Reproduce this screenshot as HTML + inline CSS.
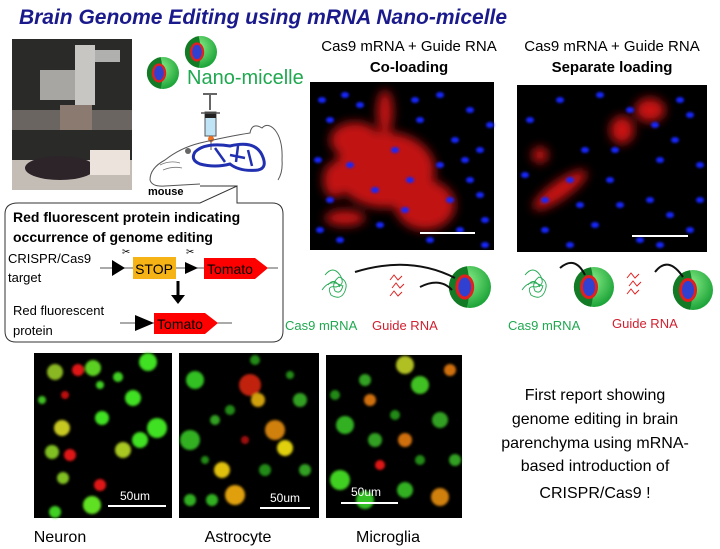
<!DOCTYPE html>
<html><head><meta charset="utf-8"><style>
html,body{margin:0;padding:0;background:#fff;}
svg{display:block;font-family:"Liberation Sans",Arial,sans-serif;}
</style></head><body>
<svg width="720" height="549" viewBox="0 0 720 549" xmlns="http://www.w3.org/2000/svg">
<defs>
<filter id="b1" x="-20%" y="-20%" width="140%" height="140%"><feGaussianBlur stdDeviation="1.3"/></filter>
<filter id="b2" x="-20%" y="-20%" width="140%" height="140%"><feGaussianBlur stdDeviation="5"/></filter>
<radialGradient id="gm" cx="40%" cy="35%" r="65%"><stop offset="0" stop-color="#8ef08a"/><stop offset="1" stop-color="#1ea53a"/></radialGradient>
<g id="mic">
<circle r="1" fill="url(#gm)"/>
<path d="M-0.15,-0.99 A1,1 0 0 0 -0.15,0.99 Q0.1,0 -0.15,-0.99Z" fill="#137a25"/>
<ellipse cx="-0.25" cy="0" rx="0.45" ry="0.6" fill="#e02020"/>
<ellipse cx="-0.25" cy="0" rx="0.3" ry="0.45" fill="#3040d0"/>
</g>
<g id="bd"><ellipse rx="4" ry="3" fill="#1428ff"/></g>
</defs>
<rect width="720" height="549" fill="#fff"/>
<text x="263" y="24" text-anchor="middle" font-size="21" font-weight="bold" font-style="italic" fill="#1a1a8c">Brain Genome Editing using mRNA Nano-micelle</text>

<!-- photo -->
<rect x="12" y="39" width="120" height="151" fill="#2a2a28"/>
<rect x="12" y="110" width="120" height="20" fill="#6a6560"/>
<rect x="40" y="70" width="55" height="30" fill="#a8a6a2"/>
<rect x="75" y="45" width="20" height="60" fill="#c8c6c2"/>
<rect x="95" y="50" width="25" height="12" fill="#b0b0ae"/>
<rect x="60" y="105" width="32" height="25" fill="#8a7a70"/>
<rect x="12" y="160" width="120" height="30" fill="#c4bdb5"/>
<ellipse cx="60" cy="168" rx="35" ry="12" fill="#2c2428"/>
<rect x="90" y="150" width="40" height="25" fill="#ece4dc"/>

<!-- micelles + syringe + mouse -->
<use href="#mic" transform="translate(163,73) scale(16)"/>
<use href="#mic" transform="translate(201,52) scale(16)"/>
<text x="187" y="84" font-size="20" fill="#20a850">Nano-micelle</text>
<line x1="210" y1="94" x2="210" y2="110" stroke="#666" stroke-width="2"/>
<line x1="203" y1="94" x2="217" y2="94" stroke="#666" stroke-width="2"/>
<rect x="205" y="112" width="11" height="24" fill="#bfe4f5" stroke="#555"/>
<rect x="205" y="112" width="11" height="6" fill="#222"/>
<line x1="201" y1="113" x2="220" y2="113" stroke="#555" stroke-width="1.5"/>
<circle cx="211" cy="139" r="3" fill="#f07020"/>
<line x1="211" y1="140" x2="211" y2="150" stroke="#555"/>
<path d="M150,180 Q150,168 165,160 Q180,148 200,143 Q230,136 250,133 Q252,122 262,128 Q268,122 275,130 Q283,140 282,160 Q283,172 278,180 M150,180 Q152,187 165,186 L200,184" fill="none" stroke="#555" stroke-width="1"/>
<path d="M195,152 Q205,142 230,146 Q255,140 262,155 Q268,168 258,170 Q240,172 230,164 Q215,168 200,164 Q190,160 195,152Z" fill="none" stroke="#2030b0" stroke-width="3"/>
<path d="M215,148 L225,162 M238,146 L236,162 M248,150 L252,166 M230,155 L245,158" stroke="#2030b0" stroke-width="2.5"/>
<circle cx="188" cy="151" r="3" fill="#666"/>
<path d="M160,165 Q170,160 180,163 M163,170 Q173,166 182,168" fill="none" stroke="#777" stroke-width="0.8"/>
<text x="148" y="195" font-size="11" font-weight="bold">mouse</text>

<!-- callout -->
<path d="M18,203 L200,203 L237,186 L237,203 L272,203 Q283,203 283,214 L283,331 Q283,342 272,342 L16,342 Q5,342 5,331 L5,214 Q5,203 18,203Z" fill="#fff" stroke="#333" stroke-width="1"/>
<path d="M200,186 L237,186" stroke="#333"/>
<text x="13" y="222" font-size="14" font-weight="bold">Red fluorescent protein indicating</text>
<text x="13" y="242" font-size="14" font-weight="bold">occurrence of genome editing</text>
<text x="8" y="263" font-size="13">CRISPR/Cas9</text>
<text x="8" y="282" font-size="13">target</text>
<line x1="100" y1="268" x2="278" y2="268" stroke="#555"/>
<path d="M112,260 L125,268 L112,276Z" fill="#000"/>
<rect x="133" y="257" width="43" height="22" fill="#f5b315"/>
<text x="154" y="274" font-size="14" text-anchor="middle">STOP</text>
<path d="M185,262 L198,268 L185,274Z" fill="#000"/>
<path d="M204,258 L255,258 L268,268 L255,279 L204,279Z" fill="#f00"/>
<text x="230" y="274" font-size="14" text-anchor="middle">Tomato</text>
<text x="122" y="255" font-size="10">✂</text><text x="186" y="255" font-size="10">✂</text>
<line x1="178" y1="281" x2="178" y2="296" stroke="#000" stroke-width="3"/>
<path d="M171,295 L185,295 L178,304Z" fill="#000"/>
<text x="13" y="315" font-size="13">Red fluorescent</text>
<text x="13" y="335" font-size="13">protein</text>
<line x1="120" y1="323" x2="232" y2="323" stroke="#555"/>
<path d="M135,315 L154,323 L135,331Z" fill="#000"/>
<path d="M154,313 L205,313 L218,323 L205,334 L154,334Z" fill="#f00"/>
<text x="180" y="329" font-size="14" text-anchor="middle">Tomato</text>

<!-- top labels -->
<text x="409" y="51" font-size="15" text-anchor="middle">Cas9 mRNA + Guide RNA</text>
<text x="409" y="72" font-size="15" font-weight="bold" text-anchor="middle">Co-loading</text>
<text x="612" y="51" font-size="15" text-anchor="middle">Cas9 mRNA + Guide RNA</text>
<text x="612" y="72" font-size="15" font-weight="bold" text-anchor="middle">Separate loading</text>

<!-- panel 1 -->
<rect x="310" y="82" width="184" height="168" fill="#000"/>
<g filter="url(#b2)" fill="#d81818" opacity="0.9">
<ellipse cx="385" cy="170" rx="50" ry="38"/><ellipse cx="425" cy="205" rx="30" ry="25"/><ellipse cx="355" cy="140" rx="25" ry="18"/><ellipse cx="385" cy="112" rx="8" ry="22"/><ellipse cx="345" cy="218" rx="20" ry="8"/><ellipse cx="335" cy="180" rx="12" ry="18"/>
</g>
<g filter="url(#b1)">
<use href="#bd" x="322" y="100"/><use href="#bd" x="345" y="95"/><use href="#bd" x="440" y="95"/><use href="#bd" x="470" y="110"/><use href="#bd" x="455" y="140"/><use href="#bd" x="480" y="150"/><use href="#bd" x="470" y="180"/><use href="#bd" x="485" y="220"/><use href="#bd" x="330" y="200"/><use href="#bd" x="318" y="160"/><use href="#bd" x="395" y="150"/><use href="#bd" x="410" y="180"/><use href="#bd" x="375" y="190"/><use href="#bd" x="430" y="240"/><use href="#bd" x="460" y="230"/><use href="#bd" x="340" y="240"/><use href="#bd" x="420" y="120"/><use href="#bd" x="450" y="200"/><use href="#bd" x="330" y="120"/><use href="#bd" x="360" y="105"/><use href="#bd" x="490" y="125"/><use href="#bd" x="465" y="160"/><use href="#bd" x="405" y="210"/><use href="#bd" x="380" y="225"/><use href="#bd" x="320" y="230"/><use href="#bd" x="440" y="165"/><use href="#bd" x="480" y="195"/><use href="#bd" x="350" y="165"/><use href="#bd" x="415" y="100"/><use href="#bd" x="485" y="245"/>
</g>
<line x1="420" y1="233" x2="475" y2="233" stroke="#fff" stroke-width="2"/>

<!-- panel 2 -->
<rect x="517" y="85" width="190" height="167" fill="#000"/>
<g filter="url(#b2)" fill="#e01818" opacity="0.9">
<ellipse cx="560" cy="190" rx="32" ry="9" transform="rotate(-35 560 190)"/><ellipse cx="650" cy="110" rx="15" ry="12"/><ellipse cx="622" cy="130" rx="12" ry="14"/><ellipse cx="540" cy="155" rx="8" ry="8"/>
</g>
<g filter="url(#b1)">
<use href="#bd" x="560" y="100"/><use href="#bd" x="600" y="95"/><use href="#bd" x="630" y="110"/><use href="#bd" x="690" y="115"/><use href="#bd" x="700" y="165"/><use href="#bd" x="660" y="160"/><use href="#bd" x="585" y="150"/><use href="#bd" x="610" y="180"/><use href="#bd" x="650" y="200"/><use href="#bd" x="690" y="230"/><use href="#bd" x="545" y="230"/><use href="#bd" x="595" y="225"/><use href="#bd" x="640" y="240"/><use href="#bd" x="570" y="180"/><use href="#bd" x="675" y="140"/><use href="#bd" x="530" y="120"/><use href="#bd" x="655" y="125"/><use href="#bd" x="620" y="205"/><use href="#bd" x="580" y="205"/><use href="#bd" x="670" y="215"/><use href="#bd" x="700" y="200"/><use href="#bd" x="545" y="200"/><use href="#bd" x="615" y="150"/><use href="#bd" x="680" y="100"/><use href="#bd" x="525" y="175"/><use href="#bd" x="660" y="245"/><use href="#bd" x="570" y="245"/>
</g>
<line x1="632" y1="236" x2="688" y2="236" stroke="#fff" stroke-width="2"/>

<!-- bottom schematics -->
<g fill="none" stroke="#20a850" stroke-width="0.9">
<path d="M325,275 q8,-10 15,0 q6,10 -4,12 q-10,-2 -5,8 q10,6 14,-4 q4,-10 -6,-14 q-8,6 -4,14 q6,4 8,-6 M328,285 q6,-8 12,2 M322,290 q8,-12 20,-4"/>
<path d="M525,275 q8,-10 15,0 q6,10 -4,12 q-10,-2 -5,8 q10,6 14,-4 q4,-10 -6,-14 q-8,6 -4,14 q6,4 8,-6 M528,285 q6,-8 12,2 M522,290 q8,-12 20,-4"/>
</g>
<g fill="none" stroke="#e02020" stroke-width="1">
<path d="M390,280 l4,-5 l4,5 l4,-4 M392,288 l4,-5 l4,5 l4,-4 M390,296 l4,-5 l4,5 l4,-4"/>
<path d="M627,278 l4,-5 l4,5 l4,-4 M629,286 l4,-5 l4,5 l4,-4 M627,294 l4,-5 l4,5 l4,-4"/>
</g>
<use href="#mic" transform="translate(470,287) scale(21)"/>
<use href="#mic" transform="translate(594,287) scale(20)"/>
<use href="#mic" transform="translate(693,290) scale(20)"/>
<g fill="none" stroke="#111" stroke-width="2">
<path d="M355,272 Q410,255 455,278"/><path d="M420,287 Q440,277 452,290"/>
<path d="M560,268 Q575,255 585,275"/><path d="M655,272 Q668,255 683,277"/>
</g>
<text x="285" y="330" font-size="13" fill="#20a850">Cas9 mRNA</text>
<text x="372" y="330" font-size="13" fill="#d02030">Guide RNA</text>
<text x="508" y="330" font-size="13" fill="#20a850">Cas9 mRNA</text>
<text x="612" y="328" font-size="13" fill="#d02030">Guide RNA</text>

<!-- bottom micrographs -->
<rect x="34" y="353" width="138" height="165" fill="#000"/>
<g filter="url(#b1)">
<circle cx="55" cy="372" r="8" fill="#8ab820"/><circle cx="78" cy="370" r="6" fill="#e01818"/><circle cx="93" cy="368" r="8" fill="#5cd020"/><circle cx="148" cy="362" r="9" fill="#40e020"/><circle cx="133" cy="398" r="8" fill="#40e020"/><circle cx="118" cy="377" r="5" fill="#40d020"/><circle cx="100" cy="385" r="4" fill="#40d020"/><circle cx="102" cy="418" r="7" fill="#40e020"/><circle cx="62" cy="428" r="8" fill="#c8c820"/><circle cx="52" cy="452" r="7" fill="#80c020"/><circle cx="70" cy="455" r="6" fill="#e01818"/><circle cx="123" cy="450" r="8" fill="#a8c820"/><circle cx="157" cy="428" r="10" fill="#40e020"/><circle cx="140" cy="440" r="8" fill="#40e020"/><circle cx="63" cy="478" r="6" fill="#80c020"/><circle cx="100" cy="485" r="6" fill="#e01818"/><circle cx="92" cy="505" r="9" fill="#60e020"/><circle cx="55" cy="512" r="6" fill="#40d020"/><circle cx="42" cy="400" r="4" fill="#40c020"/><circle cx="65" cy="395" r="4" fill="#c01010"/>
</g>
<line x1="108" y1="506" x2="166" y2="506" stroke="#fff" stroke-width="2"/>
<text x="135" y="500" font-size="12" fill="#fff" text-anchor="middle">50um</text>

<rect x="179" y="353" width="140" height="165" fill="#000"/>
<g filter="url(#b1)">
<circle cx="195" cy="380" r="9" fill="#30c020"/><circle cx="190" cy="440" r="10" fill="#30b020"/><circle cx="215" cy="420" r="5" fill="#30a020"/><circle cx="250" cy="385" r="11" fill="#c02010"/><circle cx="258" cy="400" r="7" fill="#d0a010"/><circle cx="275" cy="430" r="10" fill="#d08010"/><circle cx="285" cy="448" r="8" fill="#e0d010"/><circle cx="222" cy="470" r="8" fill="#e0c010"/><circle cx="235" cy="495" r="10" fill="#e0a010"/><circle cx="212" cy="500" r="6" fill="#30b020"/><circle cx="300" cy="400" r="7" fill="#30a020"/><circle cx="305" cy="470" r="6" fill="#30a020"/><circle cx="190" cy="500" r="6" fill="#30b020"/><circle cx="255" cy="360" r="5" fill="#208a18"/><circle cx="230" cy="410" r="5" fill="#208a18"/><circle cx="265" cy="470" r="6" fill="#208a18"/><circle cx="205" cy="460" r="4" fill="#208a18"/><circle cx="290" cy="375" r="4" fill="#208a18"/><circle cx="245" cy="440" r="4" fill="#a01010"/>
</g>
<line x1="260" y1="508" x2="310" y2="508" stroke="#fff" stroke-width="2"/>
<text x="285" y="502" font-size="12" fill="#fff" text-anchor="middle">50um</text>

<rect x="326" y="355" width="136" height="163" fill="#000"/>
<g filter="url(#b1)">
<circle cx="405" cy="365" r="9" fill="#b0c020"/><circle cx="420" cy="385" r="9" fill="#40c020"/><circle cx="450" cy="370" r="6" fill="#d07010"/><circle cx="365" cy="380" r="6" fill="#30a020"/><circle cx="370" cy="400" r="6" fill="#d07010"/><circle cx="345" cy="425" r="9" fill="#30b020"/><circle cx="375" cy="440" r="7" fill="#30a020"/><circle cx="405" cy="440" r="7" fill="#d07010"/><circle cx="440" cy="420" r="8" fill="#30a020"/><circle cx="380" cy="465" r="5" fill="#e01818"/><circle cx="340" cy="480" r="10" fill="#40d020"/><circle cx="365" cy="500" r="9" fill="#30c020"/><circle cx="405" cy="490" r="8" fill="#30b020"/><circle cx="440" cy="497" r="9" fill="#d08010"/><circle cx="455" cy="460" r="6" fill="#30a020"/><circle cx="335" cy="395" r="5" fill="#208a18"/><circle cx="395" cy="415" r="5" fill="#208a18"/><circle cx="420" cy="460" r="5" fill="#208a18"/>
</g>
<line x1="341" y1="503" x2="398" y2="503" stroke="#fff" stroke-width="2"/>
<text x="366" y="496" font-size="12" fill="#fff" text-anchor="middle">50um</text>

<text x="60" y="542" font-size="16" text-anchor="middle">Neuron</text>
<text x="238" y="542" font-size="16" text-anchor="middle">Astrocyte</text>
<text x="388" y="542" font-size="16" text-anchor="middle">Microglia</text>

<g font-size="16" text-anchor="middle">
<text x="595" y="400">First report showing</text>
<text x="595" y="424">genome editing in brain</text>
<text x="595" y="448">parenchyma using mRNA-</text>
<text x="595" y="471">based introduction of</text>
<text x="595" y="498">CRISPR/Cas9 !</text>
</g>
</svg>
</body></html>
